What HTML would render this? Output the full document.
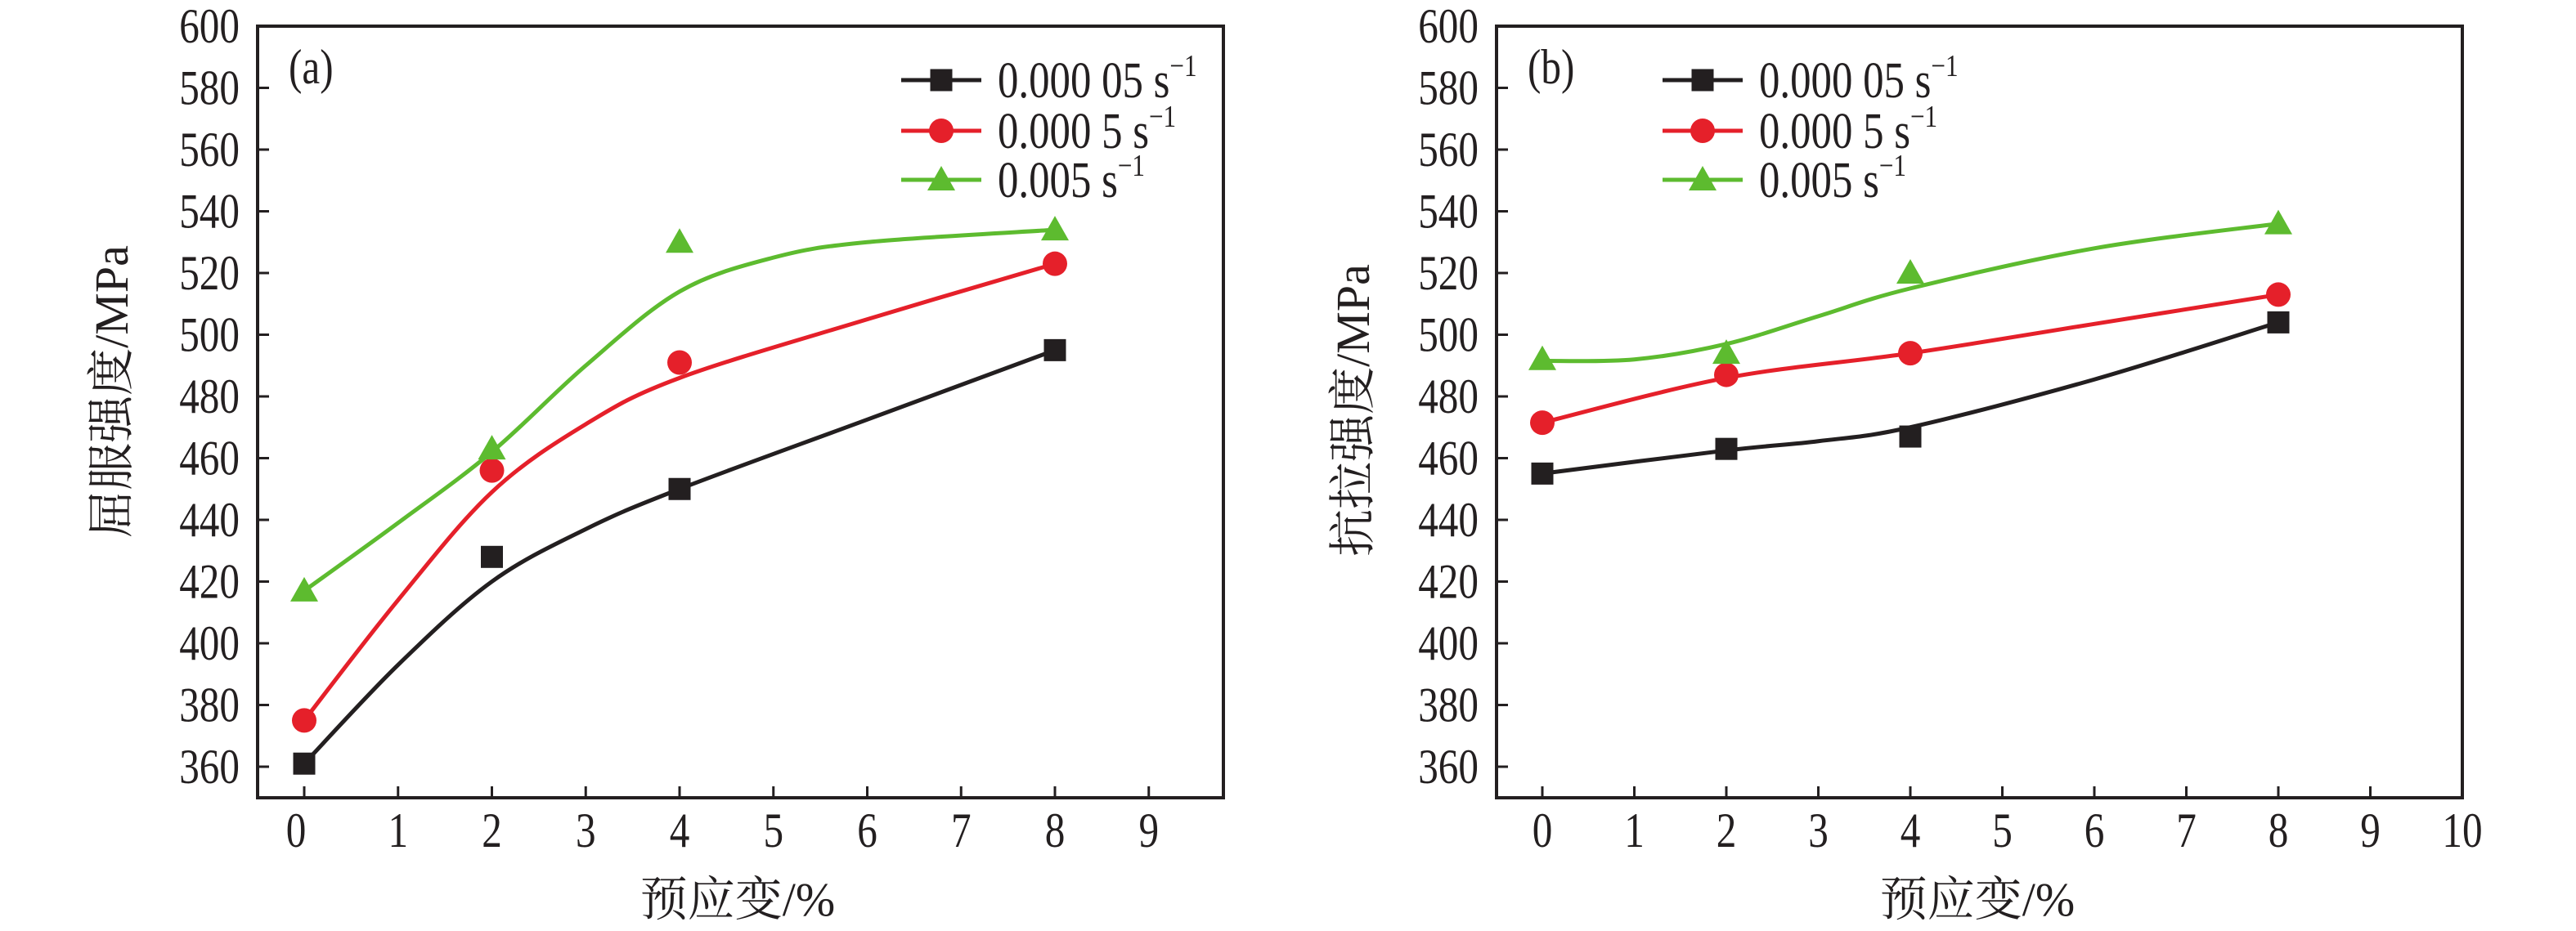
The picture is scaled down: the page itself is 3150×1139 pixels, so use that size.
<!DOCTYPE html>
<html><head><meta charset="utf-8"><style>
html,body{margin:0;padding:0;background:#fff;}
svg{display:block}
text{font-family:"Liberation Serif","Noto Serif CJK SC",serif;fill:#231f20}
</style></head><body>
<svg id="s" width="3150" height="1139" viewBox="0 0 3150 1139" xmlns="http://www.w3.org/2000/svg">
<rect width="3150" height="1139" fill="#fff"/>
<g id="g"></g>
</svg>
<script>
const NS="http://www.w3.org/2000/svg";
const g=document.getElementById('g');
function el(t,a,txt){const e=document.createElementNS(NS,t);for(const k in a)e.setAttribute(k,a[k]);if(txt!==undefined)e.textContent=txt;g.appendChild(e);return e;}
function ct(x,y,size,anchor,txt,sx){sx=sx||0.82;const e=el('text',{x:0,y:0,'font-size':size,'text-anchor':anchor,transform:`translate(${x},${y}) scale(${sx},1)`},txt);return e;}
const Y=v=>938-(v-360)*3.775;
const C={k:'#231f20',r:'#e5202a',g:'#5dbb2f'};
function cr(pts){let d=`M${pts[0][0]},${pts[0][1]}`;for(let i=0;i<pts.length-1;i++){const p0=pts[i-1]||pts[i],p1=pts[i],p2=pts[i+1],p3=pts[i+2]||p2;
const c1=[p1[0]+(p2[0]-p0[0])/6,p1[1]+(p2[1]-p0[1])/6],c2=[p2[0]-(p3[0]-p1[0])/6,p2[1]-(p3[1]-p1[1])/6];
d+=` C${c1[0]},${c1[1]} ${c2[0]},${c2[1]} ${p2[0]},${p2[1]}`;}return d;}
function marker(type,x,y){const c=C[type];
if(type=='k')el('rect',{x:x-13.5,y:y-13.5,width:27,height:27,fill:c});
else if(type=='r')el('ellipse',{cx:x,cy:y,rx:15,ry:15,fill:c});
else el('polygon',{points:`${x},${y-17} ${x+17},${y+13} ${x-17},${y+13}`,fill:c});}
function panel(o){
const X=v=>o.x0+o.u*v;
for(let v=360;v<=580;v+=20){el('line',{x1:o.L,y1:Y(v),x2:o.L+14,y2:Y(v),stroke:'#231f20','stroke-width':3});}
for(let v=360;v<=600;v+=20){ct(o.L-22,Y(v)+20,60,'end',String(v));}
for(let v=0;v<=o.nx;v++){const x=X(v);if(x<o.R-2)el('line',{x1:x,y1:976,x2:x,y2:962,stroke:'#231f20','stroke-width':3});
ct(x-(v==0&&o.a?10:0),1036,60,'middle',String(v));}
el('rect',{x:o.L,y:32,width:o.R-o.L,height:944,fill:'none',stroke:'#231f20','stroke-width':4});
for(const s of ['k','r','g']){el('path',{d:cr(o.curves[s].map(p=>[X(p[0]),Y(p[1])])),fill:'none',stroke:C[s],'stroke-width':5});}
for(const s of ['k','r','g']){o.pts[s].forEach((v,i)=>marker(s,X([0,2,4,8][i]),Y(v)));}
const labels={k:'0.000 05 s',r:'0.000 5 s',g:'0.005 s'};
[['k',98],['r',160],['g',220]].forEach(([s,y])=>{el('line',{x1:o.lx,y1:y,x2:o.lx+98,y2:y,stroke:C[s],'stroke-width':5});marker(s,o.lx+49,y);
const t=ct(o.lx+118,y+21,62,'start',labels[s]);
const sp=document.createElementNS(NS,'tspan');sp.setAttribute('font-size',38);sp.setAttribute('dy',-26);sp.textContent='\u22121';t.appendChild(sp);});
ct(o.L+38,102,60,'start',o.tag);
el('text',{x:o.tx,y:1120,'font-size':58,'text-anchor':'middle'},'预应变/%');
el('text',{x:0,y:0,'font-size':58,'text-anchor':'middle',transform:`translate(${o.yx},${o.yy}) rotate(-90)`},o.ytitle);
}
panel({L:315,R:1496,x0:372,u:114.75,nx:9,a:true,lx:1102,tag:'(a)',tx:902,yx:156,yy:479,ytitle:'屈服强度/MPa',
pts:{k:[361,428,450,495],r:[375,456,491,523],g:[417,463,530,534]},
curves:{k:[[0,361],[1,393],[2,420],[3,437],[4,450],[6,472.5],[8,495]],
r:[[0,375],[1,414],[2,449],[3,471],[4,486],[6,505],[8,523]],
g:[[0,417],[1,439],[2,462],[3,490],[4,514],[5,525],[6,530],[8,534]]}});
panel({L:1830,R:3011,x0:1886,u:112.5,nx:10,a:false,lx:2033,tag:'(b)',tx:2418,yx:1674,yy:502,ytitle:'抗拉强度/MPa',
pts:{k:[455,463,467,504],r:[471.5,487,494,513],g:[492,494,520,536]},
curves:{k:[[0,455],[2,462.5],[3,465.5],[4,470],[6,485.5],[8,504]],
r:[[0,471.5],[2,486],[4,494],[6,503.5],[8,513]],
g:[[0,491.5],[1,492],[2,497],[3,506],[4,515],[6,528],[8,536]]}});
</script>
</body></html>
